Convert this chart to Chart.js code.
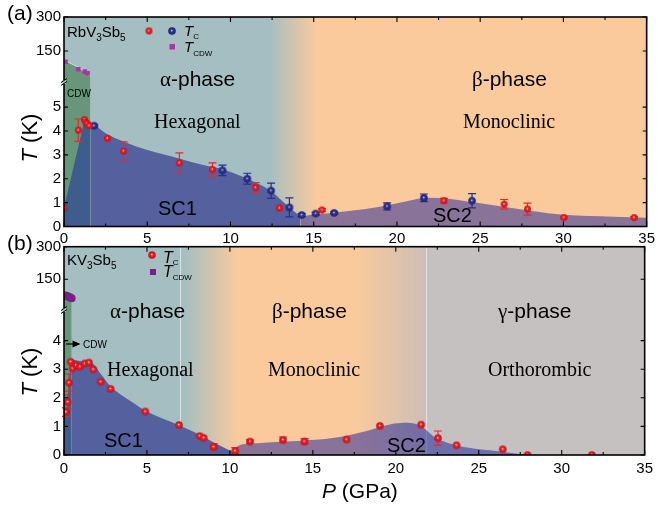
<!DOCTYPE html>
<html><head><meta charset="utf-8">
<script src="https://cdn.jsdelivr.net/npm/chart.js@4.4.1/dist/chart.umd.min.js"></script>
<style>
html,body{margin:0;padding:0;background:#fff;}
#wrap{position:relative;width:658px;height:506px;overflow:hidden;}
canvas{position:absolute;left:0;top:0;}
</style></head><body>
<div id="wrap"><canvas id="ca" width="658" height="506"></canvas><canvas id="cb" width="658" height="506"></canvas></div>
<script>
// ---------------- shared axes ----------------
const xTicks = [0, 5, 10, 15, 20, 25, 30, 35];
const xMinor = [2.5, 7.5, 12.5, 17.5, 22.5, 27.5, 32.5];
const yTopTicks = [150, 300];
const yBotTicksA = [0, 1, 2, 3, 4, 5];
const yBotTicksB = [0, 1, 2, 3, 4];

// ---------------- panel (a) RbV3Sb5 ----------------
const redA_P = [0.0, 0.86, 1.23, 1.31, 1.39, 1.51, 2.61, 3.58, 6.93, 8.92, 11.51, 12.94, 15.5, 22.82, 26.44, 27.84, 30.03, 34.25];
const redA_T = [0.77, 4.03, 4.47, 4.36, 4.3, 4.22, 3.69, 3.16, 2.66, 2.38, 1.62, 0.77, 0.69, 1.08, 0.93, 0.73, 0.37, 0.37];
const redA_E = [0, 0.47, 0, 0, 0.05, 0.04, 0.05, 0.38, 0.42, 0.28, 0.22, 0.1, 0.06, 0.1, 0.2, 0.25, 0.04, 0.04];
const blueA_P = [1.81, 9.52, 11.01, 12.44, 13.54, 14.28, 15.12, 16.23, 19.41, 21.62, 24.51];
const blueA_T = [4.22, 2.35, 2.0, 1.5, 0.8, 0.48, 0.54, 0.57, 0.84, 1.2, 1.08];
const blueA_E = [0.04, 0.22, 0.23, 0.32, 0.4, 0.06, 0.05, 0.04, 0.15, 0.16, 0.3];
const cdwA_P = [0.1, 0.86, 1.25, 1.42];
const cdwA_T = [103, 69, 59, 52];
const cdwEdgeA_P = [0, 0.86, 1.58];
const cdwEdgeA_T = [110, 78, 40];
const cdwStripA_P = [0, 1.58];
const sc1CdwA_P = [0, 1.2, 1.58];
const sc1CdwA_T = [0.8, 4.34, 4.3];
const sc1A_P = [1.58, 1.9, 2.5, 3.6, 5.0, 6.9, 8.5, 9.5, 11.0, 12.4, 13.5, 14.2];
const sc1A_T = [4.3, 4.22, 3.9, 3.55, 3.2, 2.85, 2.55, 2.4, 2.0, 1.5, 0.82, 0.42];
const sc2A_P = [14.2, 15, 16.2, 18, 19.6, 21, 21.8, 23.2, 24.7, 26.5, 28.1, 30, 33, 35];
const sc2A_T = [0.42, 0.5, 0.58, 0.72, 0.91, 1.12, 1.2, 1.15, 1.0, 0.82, 0.65, 0.49, 0.41, 0.37];
const phaseA = [[0, 'alpha'], [12.3, 'alpha'], [15.2, 'beta'], [35, 'beta']];
const linesA = [];

// ---------------- panel (b) KV3Sb5 ----------------
const redB_P = [0.12, 0.22, 0.3, 0.4, 0.52, 0.72, 0.96, 1.25, 1.51, 1.77, 2.21, 2.81, 4.9, 6.93, 8.18, 8.42, 9.02, 10.32, 11.21, 13.2, 14.5, 17.03, 19.04, 21.53, 22.54, 23.66, 26.45, 27.94, 31.82];
const redB_T = [1.5, 1.85, 2.53, 3.26, 3.03, 3.14, 3.09, 3.2, 3.23, 2.99, 2.56, 2.31, 1.52, 1.05, 0.66, 0.6, 0.28, 0.14, 0.47, 0.53, 0.47, 0.54, 1.02, 1.06, 0.59, 0.34, 0.2, 0.0, 0.0];
const redB_E = [0.15, 0.25, 0.3, 0, 0, 0, 0, 0, 0, 0, 0, 0, 0, 0, 0, 0, 0.12, 0.12, 0.06, 0.1, 0.1, 0, 0, 0, 0.25, 0, 0, 0, 0];
const cdwB_P = [0.06, 0.14, 0.22, 0.3, 0.38, 0.46];
const cdwB_T = [76, 74, 72, 69, 66, 63];
const cdwEdgeB_P = [0, 0.46];
const cdwEdgeB_T = [78, 60];
const cdwStripB_P = [0, 0.46];
const sc1CdwB_P = [0, 0.12, 0.22, 0.3, 0.46];
const sc1CdwB_T = [1.3, 1.55, 1.95, 2.55, 3.35];
const sc1B_P = [0.46, 0.8, 1.2, 1.72, 2.2, 2.8, 4.1, 4.9, 6.9, 8.1, 9.0, 10.2];
const sc1B_T = [3.35, 3.3, 3.25, 3.2, 2.85, 2.4, 1.85, 1.55, 1.05, 0.73, 0.45, 0.1];
const sc2B_P = [10.2, 10.5, 11.3, 12.5, 14.1, 16.3, 18.3, 19.9, 20.7, 21.5, 22.3, 23.1, 24.3, 26.3, 27.9];
const sc2B_T = [0.1, 0.32, 0.4, 0.45, 0.49, 0.6, 0.85, 1.1, 1.13, 1.02, 0.64, 0.43, 0.26, 0.12, 0.0];
const phaseB = [[0, 'alpha'], [7.2, 'alpha'], [10.5, 'beta'], [17.6, 'beta'], [21.8, 'mix'], [21.8, 'gamma'], [35, 'gamma']];
const linesB = [7.0, 21.8];

// ---------------- styles ----------------
const FONT = "'Liberation Sans', Arial, sans-serif";
const SERIF = "'Liberation Serif', 'Times New Roman', serif";
const COL = {
  alpha: 'rgb(164,190,193)', beta: 'rgb(250,202,156)', gamma: 'rgb(197,193,193)', mix: 'rgb(205,190,182)',
  cdw: 'rgb(103,150,122)', sc1: 'rgb(84,97,158)', sc1cdw: 'rgb(62,92,140)', sc2: 'rgba(23,27,150,0.5)'
};

function sphere(r, light, base, dark) {
  const s = Math.ceil(2 * r) + 2, c = document.createElement('canvas');
  c.width = c.height = s;
  const g = c.getContext('2d'), m = s / 2;
  const grd = g.createRadialGradient(m - 0.3, m - 0.6, 0, m, m, r);
  grd.addColorStop(0, light); grd.addColorStop(0.35, base); grd.addColorStop(1, dark);
  g.fillStyle = grd; g.beginPath(); g.arc(m, m, r, 0, 2 * Math.PI); g.fill();
  return c;
}
const redDotA = sphere(3.4, '#ffe4e4', '#ee2228', '#c2101a');
const redDotB = sphere(3.8, '#ffe4e4', '#ee2228', '#c2101a');
const blueDot = sphere(3.8, '#dfe2ff', '#2f3798', '#1b206e');

const pts = (P, T) => P.map((p, i) => ({ x: p, y: T[i] }));
function area(P, T, axis, color, order, extra) {
  return Object.assign({ data: pts(P, T), yAxisID: axis, backgroundColor: color, borderWidth: 0,
    pointRadius: 0, fill: 'origin', cubicInterpolationMode: 'monotone', order }, extra || {});
}
function marks(P, T, E, axis, style, radius, color, order) {
  return { data: pts(P, T), yAxisID: axis, showLine: false, pointStyle: style, pointRadius: radius,
    backgroundColor: color, borderColor: color, pointBorderWidth: 0, errs: E, errColor: color, order };
}

function richText(ctx, x, y, parts) {
  let cx = x;
  parts.forEach(([t, font, dy]) => { ctx.font = font; ctx.fillText(t, cx, y + (dy || 0)); cx += ctx.measureText(t).width; });
}
function richWidth(ctx, parts) {
  let w = 0; parts.forEach(([t, font]) => { ctx.font = font; w += ctx.measureText(t).width; }); return w;
}

function panelPlugin(cfg) {
  return {
    id: 'panel_' + cfg.name,
    beforeDatasetsDraw(chart) {
      const { ctx, chartArea: a, scales } = chart;
      const x = scales.x;
      const g = ctx.createLinearGradient(a.left, 0, a.right, 0);
      cfg.phases.forEach(([v, c]) => g.addColorStop(Math.min(1, Math.max(0, (x.getPixelForValue(v) - a.left) / (a.right - a.left))), COL[c]));
      ctx.save();
      ctx.fillStyle = g; ctx.fillRect(a.left, a.top, a.right - a.left, a.bottom - a.top);
      ctx.strokeStyle = 'rgba(255,255,255,0.55)'; ctx.lineWidth = 1;
      cfg.lines.forEach(v => { const px = Math.round(x.getPixelForValue(v)) + 0.5; ctx.beginPath(); ctx.moveTo(px, a.top); ctx.lineTo(px, a.bottom); ctx.stroke(); });
      ctx.restore();
    },
    beforeDatasetDraw(chart, args) {
      const ds = chart.data.datasets[args.index];
      if (!ds.errs) return;
      const { ctx } = chart, meta = args.meta;
      ctx.save(); ctx.strokeStyle = ds.errColor; ctx.lineWidth = 1.2;
      ds.data.forEach((d, i) => {
        const e = ds.errs[i]; if (!e) return;
        const px = meta.xScale.getPixelForValue(d.x);
        const y1 = meta.yScale.getPixelForValue(d.y + e), y2 = meta.yScale.getPixelForValue(d.y - e);
        ctx.beginPath(); ctx.moveTo(px, y1); ctx.lineTo(px, y2);
        ctx.moveTo(px - 4, y1); ctx.lineTo(px + 4, y1); ctx.moveTo(px - 4, y2); ctx.lineTo(px + 4, y2); ctx.stroke();
      });
      ctx.restore();
    },
    afterDatasetsDraw(chart) {
      const { ctx, chartArea: a, scales } = chart;
      const x = scales.x, yT = scales.yT, yB = scales.yB;
      ctx.save();
      ctx.strokeStyle = '#000'; ctx.lineWidth = 1.6;
      ctx.strokeRect(a.left, a.top, a.right - a.left, a.bottom - a.top);
      ctx.lineWidth = 1.1;
      ctx.beginPath();
      xTicks.forEach(v => { const p = x.getPixelForValue(v); ctx.moveTo(p, a.bottom); ctx.lineTo(p, a.bottom - 5); ctx.moveTo(p, a.top); ctx.lineTo(p, a.top + 5); });
      xMinor.forEach(v => { const p = x.getPixelForValue(v); ctx.moveTo(p, a.bottom); ctx.lineTo(p, a.bottom - 3); ctx.moveTo(p, a.top); ctx.lineTo(p, a.top + 3); });
      [[yT, yTopTicks], [yB, cfg.yBotTicks]].forEach(([s, tv]) => tv.forEach(v => {
        const p = s.getPixelForValue(v); ctx.moveTo(a.left, p); ctx.lineTo(a.left + 4, p); ctx.moveTo(a.right, p); ctx.lineTo(a.right - 4, p);
      }));
      ctx.stroke();
      // axis break mark
      const yb = yB.top;
      ctx.fillStyle = COL.alpha; ctx.fillRect(a.left - 2, yb - 2, 4, 4);
      ctx.lineWidth = 1; ctx.beginPath();
      ctx.moveTo(a.left - 3, yb + 0.5); ctx.lineTo(a.left + 3, yb - 3.5);
      ctx.moveTo(a.left - 3, yb + 3.5); ctx.lineTo(a.left + 3, yb - 0.5);
      ctx.stroke();
      ctx.restore();
      ctx.save(); ctx.fillStyle = '#000'; ctx.textBaseline = 'alphabetic'; ctx.textAlign = 'left';
      cfg.draw(ctx, chart);
      ctx.restore();
    }
  };
}

function yTitle(ctx, cx, cy) {
  const parts = [['T', 'italic 22px ' + FONT], [' (K)', '22px ' + FONT]];
  ctx.save(); ctx.translate(cx, cy); ctx.rotate(-Math.PI / 2);
  richText(ctx, -richWidth(ctx, parts) / 2, 8, parts); ctx.restore();
}
function phaseLabel(ctx, x, y, greek, size) {
  richText(ctx, x, y, [[greek, size + 'px ' + SERIF], ['-phase', size + 'px ' + FONT]]);
}
function formula(ctx, x, y, parts) {
  richText(ctx, x, y, parts.map(([t, sub]) => sub ? [t, '10px ' + FONT, 4] : [t, '15px ' + FONT, 0]));
}

function makePanel(id, cfg) {
  const yAxis = (min, max, ticks, weight, sw) => ({
    type: 'linear', position: 'left', stack: 'p', stackWeight: sw, weight, min, max,
    afterBuildTicks: s => { s.ticks = ticks.map(v => ({ value: v })); },
    afterFit: s => { s.width = 64; },
    grid: { display: false, drawTicks: false }, border: { display: false },
    ticks: { font: { family: FONT, size: 15 }, color: '#000', padding: 3, autoSkip: false }
  });
  new Chart(document.getElementById(id), {
    type: 'line',
    data: { datasets: cfg.datasets },
    options: {
      responsive: false, animation: false, devicePixelRatio: 1, events: [],
      layout: { padding: { left: 0, right: 8, top: cfg.top, bottom: cfg.padBottom } },
      plugins: { legend: { display: false }, tooltip: { enabled: false } },
      scales: {
        x: { type: 'linear', position: 'bottom', min: 0, max: 35,
          afterBuildTicks: s => { s.ticks = xTicks.map(v => ({ value: v })); },
          afterFit: s => { s.height = 22; },
          grid: { display: false, drawTicks: false }, border: { display: false },
          ticks: { font: { family: FONT, size: 15 }, color: '#000', padding: cfg.xPad, maxRotation: 0, autoSkip: false } },
        yT: yAxis(cfg.topMin, 300, yTopTicks, 2, cfg.wTop),
        yB: yAxis(0, cfg.botMax, cfg.yBotTicks, 1, cfg.wBot)
      }
    },
    plugins: [panelPlugin(cfg)]
  });
}

// ---------- panel (a) ----------
makePanel('ca', {
  name: 'a', top: 17, padBottom: 506 - 226.5 - 22, topMin: 13.2, botMax: 6.05, wTop: 65, wBot: 144.5, xPad: 3,
  yBotTicks: yBotTicksA, phases: phaseA, lines: linesA,
  datasets: [
    area(cdwEdgeA_P, cdwEdgeA_T, 'yT', COL.cdw, 20, { fill: 'start', borderWidth: 1, borderColor: 'rgba(235,245,240,0.7)', cubicInterpolationMode: 'default', tension: 0 }),
    area(cdwStripA_P, cdwStripA_P.map(() => 6.05), 'yB', COL.cdw, 19),
    area(sc1CdwA_P, sc1CdwA_T, 'yB', COL.sc1cdw, 18, { cubicInterpolationMode: 'default', tension: 0 }),
    area(sc1A_P, sc1A_T, 'yB', COL.sc1, 17),
    area(sc2A_P, sc2A_T, 'yB', COL.sc2, 16),
    marks(cdwA_P, cdwA_T, null, 'yT', 'rect', 3.2, 'rgb(170,52,170)', 5),
    marks(blueA_P, blueA_T, blueA_E, 'yB', blueDot, 3.5, 'rgb(40,46,140)', 3),
    marks(redA_P, redA_T, redA_E, 'yB', redDotA, 3.2, 'rgb(232,40,44)', 2)
  ],
  draw(ctx) {
    richText(ctx, 7, 20, [['(a)', '21px ' + FONT]]);
    formula(ctx, 67, 37, [['RbV'], ['3', 1], ['Sb'], ['5', 1]]);
    ctx.drawImage(redDotA, 149 - redDotA.width / 2, 31 - redDotA.height / 2);
    ctx.drawImage(blueDot, 172 - blueDot.width / 2, 31 - blueDot.height / 2);
    richText(ctx, 184, 36, [['T', 'italic 15px ' + FONT], ['C', '8px ' + FONT, 3]]);
    ctx.fillStyle = 'rgb(170,52,170)'; ctx.fillRect(169.5, 44, 5.5, 5.5); ctx.fillStyle = '#000';
    richText(ctx, 184, 52, [['T', 'italic 15px ' + FONT], ['CDW', '8px ' + FONT, 4]]);
    richText(ctx, 67, 97, [['CDW', '10px ' + FONT]]);
    phaseLabel(ctx, 160, 86, 'α', 21);
    phaseLabel(ctx, 472, 86, 'β', 21);
    richText(ctx, 154, 128, [['Hexagonal', '20px ' + SERIF]]);
    richText(ctx, 463, 128, [['Monoclinic', '20px ' + SERIF]]);
    richText(ctx, 158, 215, [['SC1', '20px ' + FONT]]);
    richText(ctx, 433, 222, [['SC2', '20px ' + FONT]]);
    yTitle(ctx, 29, 138);
  }
});

// ---------- panel (b) ----------
makePanel('cb', {
  name: 'b', top: 246.7, padBottom: 506 - 455 - 22, topMin: 8.7, botMax: 5.07, wTop: 63.3, wBot: 145, xPad: 5,
  yBotTicks: yBotTicksB, phases: phaseB, lines: linesB,
  datasets: [
    area(cdwEdgeB_P, cdwEdgeB_T, 'yT', COL.cdw, 20, { fill: 'start', cubicInterpolationMode: 'default', tension: 0 }),
    area(cdwStripB_P, cdwStripB_P.map(() => 5.07), 'yB', COL.cdw, 19),
    area(sc1CdwB_P, sc1CdwB_T, 'yB', COL.sc1cdw, 18),
    area(sc1B_P, sc1B_T, 'yB', COL.sc1, 17),
    area(sc2B_P, sc2B_T, 'yB', COL.sc2, 16),
    marks(cdwB_P, cdwB_T, null, 'yT', 'circle', 4, 'rgb(122,32,132)', 5),
    marks(redB_P, redB_T, redB_E, 'yB', redDotB, 3.6, 'rgb(232,40,44)', 2)
  ],
  draw(ctx) {
    richText(ctx, 7, 250, [['(b)', '21px ' + FONT]]);
    formula(ctx, 67, 265, [['KV'], ['3', 1], ['Sb'], ['5', 1]]);
    ctx.drawImage(redDotB, 152 - redDotB.width / 2, 255 - redDotB.height / 2);
    richText(ctx, 163, 263, [['T', 'italic 16px ' + FONT], ['C', '8px ' + FONT, 2]]);
    ctx.fillStyle = 'rgb(122,32,132)'; ctx.fillRect(150, 269, 6, 6); ctx.fillStyle = '#000';
    richText(ctx, 163, 277, [['T', 'italic 16px ' + FONT], ['CDW', '8px ' + FONT, 3]]);
    // CDW arrow
    ctx.strokeStyle = '#000'; ctx.lineWidth = 1.2;
    ctx.beginPath(); ctx.moveTo(66, 344); ctx.lineTo(75, 344); ctx.stroke();
    ctx.beginPath(); ctx.moveTo(72.5, 340.5); ctx.lineTo(80.5, 344); ctx.lineTo(72.5, 347.5); ctx.closePath(); ctx.fill();
    richText(ctx, 83, 348, [['CDW', '10px ' + FONT]]);
    phaseLabel(ctx, 110, 318, 'α', 21);
    phaseLabel(ctx, 272, 318, 'β', 21);
    phaseLabel(ctx, 498, 318, 'γ', 21);
    richText(ctx, 107, 376, [['Hexagonal', '20px ' + SERIF]]);
    richText(ctx, 268, 376, [['Monoclinic', '20px ' + SERIF]]);
    richText(ctx, 488, 376, [['Orthorombic', '20px ' + SERIF]]);
    richText(ctx, 104, 447, [['SC1', '20px ' + FONT]]);
    richText(ctx, 387, 452, [['SC2', '20px ' + FONT]]);
    yTitle(ctx, 29, 372);
    richText(ctx, 322, 498, [['P', 'italic 21px ' + FONT], [' (GPa)', '21px ' + FONT]]);
  }
});
</script>
</body></html>
